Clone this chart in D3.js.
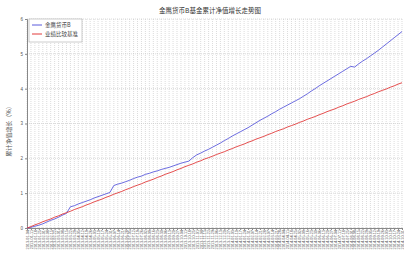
<!DOCTYPE html>
<html>
<head>
<meta charset="utf-8">
<script src="https://cdn.jsdelivr.net/npm/d3@7"></script>
<style>
  body { margin: 0; background: #fff; }
  svg { display: block; font-family: "Noto Sans CJK SC", sans-serif; }
</style>
</head>
<body>
<svg width="404" height="253"></svg>
<script>
// weekly dates on the x axis
const dates = [
  "2013-01-04","2013-01-11","2013-01-18","2013-01-25","2013-02-01","2013-02-08","2013-02-15","2013-02-22",
  "2013-03-01","2013-03-08","2013-03-15","2013-03-22","2013-03-29","2013-04-05","2013-04-12","2013-04-19",
  "2013-04-26","2013-05-03","2013-05-10","2013-05-17","2013-05-24","2013-05-31","2013-06-07","2013-06-14",
  "2013-06-21","2013-06-28","2013-07-05","2013-07-12","2013-07-19","2013-07-26","2013-08-02","2013-08-09",
  "2013-08-16","2013-08-23","2013-08-30","2013-09-06","2013-09-13","2013-09-20","2013-09-27","2013-10-04",
  "2013-10-11","2013-10-18","2013-10-25","2013-11-01","2013-11-08","2013-11-15","2013-11-22","2013-11-29",
  "2013-12-06","2013-12-13","2013-12-20","2013-12-27","2014-01-03","2014-01-10","2014-01-17","2014-01-24",
  "2014-01-31","2014-02-07","2014-02-14","2014-02-21","2014-02-28","2014-03-07","2014-03-14","2014-03-21",
  "2014-03-28","2014-04-04","2014-04-11","2014-04-18","2014-04-25","2014-05-02","2014-05-09","2014-05-16",
  "2014-05-23","2014-05-30","2014-06-06","2014-06-13","2014-06-20","2014-06-27","2014-07-04","2014-07-11",
  "2014-07-18","2014-07-25","2014-08-01","2014-08-08","2014-08-15","2014-08-22","2014-08-29","2014-09-05",
  "2014-09-12","2014-09-19","2014-09-26","2014-10-03","2014-10-10","2014-10-17","2014-10-24","2014-10-31"
];

// 金鹰货币B cumulative growth (%)
const fundValues = [
  0.00,0.02,0.05,0.08,0.12,0.17,0.22,0.26,0.31,0.37,
  0.42,0.61,0.64,0.69,0.73,0.77,0.81,0.86,0.90,0.94,
  0.98,1.02,1.22,1.26,1.29,1.33,1.37,1.42,1.46,1.49,
  1.54,1.57,1.61,1.64,1.68,1.71,1.74,1.78,1.82,1.86,
  1.89,1.92,2.02,2.10,2.15,2.21,2.26,2.32,2.38,2.44,
  2.51,2.57,2.64,2.70,2.76,2.82,2.88,2.95,3.02,3.09,
  3.15,3.21,3.28,3.34,3.41,3.47,3.53,3.59,3.65,3.71,
  3.78,3.85,3.93,4.00,4.08,4.15,4.22,4.29,4.36,4.43,
  4.50,4.57,4.64,4.62,4.71,4.79,4.86,4.94,5.02,5.10,
  5.19,5.28,5.37,5.46,5.55,5.64
];

// 业绩比较基准 cumulative growth (%)
const benchValues = [
  0.00,0.04,0.09,0.13,0.18,0.22,0.26,0.31,0.35,0.40,
  0.44,0.48,0.53,0.57,0.61,0.66,0.70,0.75,0.79,0.83,
  0.88,0.92,0.97,1.01,1.05,1.10,1.14,1.19,1.23,1.27,
  1.32,1.36,1.40,1.45,1.49,1.54,1.58,1.62,1.67,1.71,
  1.76,1.80,1.84,1.89,1.93,1.98,2.02,2.06,2.11,2.15,
  2.19,2.24,2.28,2.33,2.37,2.41,2.46,2.50,2.55,2.59,
  2.63,2.68,2.72,2.77,2.81,2.85,2.90,2.94,2.98,3.03,
  3.07,3.12,3.16,3.20,3.25,3.29,3.34,3.38,3.42,3.47,
  3.51,3.56,3.60,3.64,3.69,3.73,3.77,3.82,3.86,3.91,
  3.95,3.99,4.04,4.08,4.13,4.17
];

const yTicks = [0, 1, 2, 3, 4, 5, 6];
const seriesNames = ["金鹰货币B", "业绩比较基准"];
const seriesColors = ["#5a5adc", "#e23a3a"];

var svg = d3.select("svg"),
    plotLeft = 27, plotRight = 402, plotTop = 19, plotBottom = 228;

var x = d3.scalePoint().domain(dates).range([plotLeft, plotRight]);
var y = d3.scaleLinear().domain([0, 6]).range([plotBottom, plotTop]);

// title
svg.append("text")
    .attr("x", 210)
    .attr("y", 13)
    .attr("text-anchor", "middle")
    .attr("font-size", "6.5px")
    .attr("fill", "#333")
    .text("金鹰货币B基金累计净值增长走势图");

// vertical grid, one per date
svg.append("g")
    .selectAll("line")
    .data(dates)
    .enter()
    .append("line")
    .attr("x1", d => x(d)).attr("x2", d => x(d))
    .attr("y1", plotTop).attr("y2", plotBottom)
    .attr("stroke", "#c4c4c4")
    .attr("stroke-width", 0.6)
    .attr("stroke-dasharray", "1,1");

// horizontal grid
svg.append("g")
    .selectAll("line")
    .data(yTicks)
    .enter()
    .append("line")
    .attr("x1", plotLeft).attr("x2", plotRight)
    .attr("y1", d => y(d)).attr("y2", d => y(d))
    .attr("stroke", "#c4c4c4")
    .attr("stroke-width", 0.6)
    .attr("stroke-dasharray", "1,1");

// y axis
var yAxis = svg.append("g")
    .attr("transform", "translate(" + plotLeft + ",0)")
    .call(d3.axisLeft(y).tickValues(yTicks).tickFormat(d3.format("d")).tickSize(2).tickPadding(2));
yAxis.select(".domain").attr("stroke", "#888");
yAxis.selectAll(".tick line").attr("stroke", "#888");
yAxis.selectAll("text").attr("font-size", "4.5px").attr("fill", "#555");

svg.append("text")
    .attr("transform", "translate(11,130) rotate(-90)")
    .attr("text-anchor", "middle")
    .attr("font-size", "6px")
    .attr("fill", "#555")
    .text("累计净值增长（%）");

// x axis with rotated dates
var xAxis = svg.append("g")
    .attr("transform", "translate(0," + plotBottom + ")")
    .call(d3.axisBottom(x).tickSize(2).tickPadding(1));
xAxis.select(".domain").attr("stroke", "#888");
xAxis.selectAll(".tick line").attr("stroke", "#888");
xAxis.selectAll("text")
    .attr("font-size", "3.8px")
    .attr("fill", "#555")
    .attr("text-anchor", "end")
    .attr("dy", "0.35em")
    .attr("transform", "translate(0,2) rotate(-90)")
    .attr("x", 0).attr("y", 0);

// lines
var line = d3.line()
    .x((d, i) => x(dates[i]))
    .y(d => y(d));

[fundValues, benchValues].forEach(function(vals, k) {
    svg.append("path")
        .datum(vals)
        .attr("fill", "none")
        .attr("stroke", seriesColors[k])
        .attr("stroke-width", 0.9)
        .attr("d", line);
});

// legend
var legend = svg.append("g").attr("transform", "translate(29,19)");
legend.append("rect")
    .attr("width", 53).attr("height", 23)
    .attr("fill", "#fff")
    .attr("stroke", "#aaa")
    .attr("stroke-width", 0.6);
seriesNames.forEach(function(name, k) {
    var ly = 6 + k * 9;
    legend.append("line")
        .attr("x1", 3).attr("x2", 13)
        .attr("y1", ly).attr("y2", ly)
        .attr("stroke", seriesColors[k]);
    legend.append("text")
        .attr("x", 16).attr("y", ly + 2)
        .attr("font-size", "5.5px")
        .attr("fill", "#444")
        .text(name);
});
</script>
</body>
</html>
